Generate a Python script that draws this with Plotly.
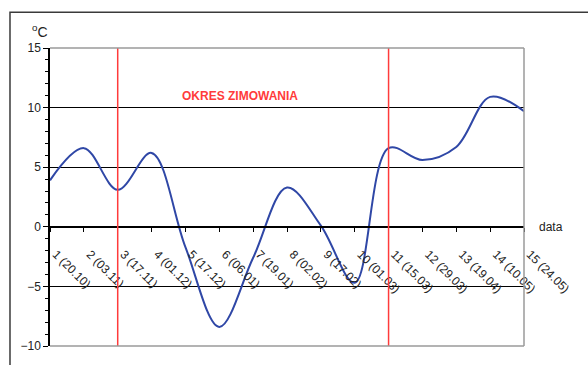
import plotly.graph_objects as go

# Measurement points and their dates
point_no = list(range(1, 16))
point_dates = ["20.10", "03.11", "17.11", "01.12", "17.12", "06.01", "19.01", "02.02",
               "17.02", "01.03", "15.03", "29.03", "19.04", "10.05", "24.05"]
temperature = [3.9, 6.6, 3.1, 6.2, -1.7, -8.4, -2.6, 3.3, 0.1, -4.7, 6.6, 5.6, 6.7, 10.9, 9.7]

# Wintering period bounds (measurement numbers)
winter_bounds = [3, 11]

y_min, y_max = -10, 15
tick_text = [f"{n} ({d})" for n, d in zip(point_no, point_dates)]
axis_pos = (0 - y_min) / (y_max - y_min)

fig = go.Figure()
fig.add_trace(go.Scatter(
    x=point_no, y=temperature, mode="lines",
    line=dict(color="#2f47a6", width=2, shape="spline", smoothing=1.0),
    hoverinfo="skip", showlegend=False,
))

# Wintering period boundaries
for b in winter_bounds:
    fig.add_shape(type="line", xref="x", yref="paper", x0=b, x1=b, y0=0, y1=1,
                  line=dict(color="#ff3b3b", width=1.5), layer="above")

# Plot-area frame (top, right, bottom)
frame = dict(color="#9a9a9a", width=1.5)
fig.add_shape(type="line", xref="paper", yref="paper", x0=0, x1=1, y0=1, y1=1, line=frame, layer="above")
fig.add_shape(type="line", xref="paper", yref="paper", x0=1, x1=1, y0=0, y1=1, line=frame, layer="above")
fig.add_shape(type="line", xref="paper", yref="paper", x0=0, x1=1, y0=0, y1=0, line=frame, layer="above")

# Chart-area border
fig.add_shape(type="rect", xref="paper", yref="paper", x0=-0.0844, x1=1.2, y0=-0.2, y1=1.1196,
              line=dict(color="#3a3a3a", width=1.5), layer="below")

tick_font = dict(family="Liberation Sans, Arial, sans-serif", size=12, color="#222222")

fig.update_layout(
    width=588, height=365,
    margin=dict(l=50, r=64, t=48, b=16),
    paper_bgcolor="white", plot_bgcolor="white",
    xaxis=dict(
        range=[1, 15], tickvals=point_no, ticktext=tick_text, tickangle=45,
        anchor="free", position=axis_pos, showgrid=False, zeroline=False,
        showline=True, linecolor="black", linewidth=1.5,
        ticks="outside", ticklen=4, tickwidth=1.2, tickcolor="black",
        tickfont=tick_font, ticklabelstandoff=11, ticklabelshift=6,
    ),
    xaxis2=dict(
        range=[1, 15], tickvals=point_no, overlaying="x", anchor="free", position=axis_pos,
        side="bottom", showticklabels=False, showgrid=False, zeroline=False,
        ticks="inside", ticklen=4, tickwidth=1.2, tickcolor="black", showline=False,
    ),
    yaxis=dict(
        range=[y_min, y_max], tickvals=[-10, -5, 0, 5, 10, 15], showgrid=True,
        gridcolor="black", gridwidth=1.2, zeroline=False,
        showline=True, linecolor="black", linewidth=1.5,
        ticks="outside", ticklen=5, tickwidth=1.2, tickcolor="black",
        minor=dict(dtick=1, ticks="outside", ticklen=3, tickcolor="black", showgrid=False),
        tickfont=tick_font,
    ),
    annotations=[
        dict(text="OKRES ZIMOWANIA", x=6.6, y=10.2, xref="x", yref="y", showarrow=False,
             yanchor="bottom", font=dict(family="Liberation Sans, Arial, sans-serif", size=12,
                                           color="#ff3b3b", weight="bold")),
        dict(text="data", x=1.027, y=0, xref="paper", yref="y", showarrow=False,
             xanchor="left", yanchor="middle", font=tick_font),
        dict(text="<sup>o</sup>C", x=-0.021, y=1.02, xref="paper", yref="paper", showarrow=False,
             xanchor="center", yanchor="bottom", font=dict(family="Liberation Sans, Arial, sans-serif",
                                                          size=14, color="#222222")),
    ],
)

fig.write_html("out.html")
